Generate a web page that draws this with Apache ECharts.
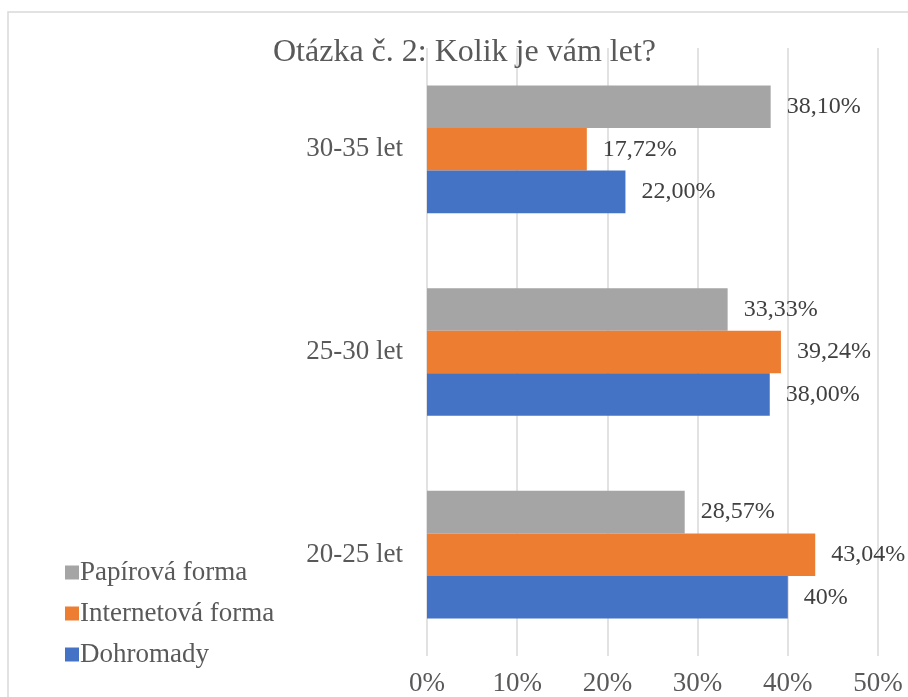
<!DOCTYPE html>
<html>
<head>
<meta charset="utf-8">
<script src="https://cdn.jsdelivr.net/npm/echarts@6/dist/echarts.min.js"></script>
<style>
  html, body { margin: 0; padding: 0; background: #fff; }
  #chart { width: 908px; height: 697px; }
</style>
</head>
<body>
<div id="chart"></div>
<script>
// kategorie zdola nahoru
var categories = ['20-25 let', '25-30 let', '30-35 let'];
var dohromady = [40, 38, 22];
var internetova = [43.04, 39.24, 17.72];
var papirova = [28.57, 33.33, 38.10];
var dohromadyLabels = ['40%', '38,00%', '22,00%'];
var internetovaLabels = ['43,04%', '39,24%', '17,72%'];
var papirovaLabels = ['28,57%', '33,33%', '38,10%'];
var tickLabels = ['0%', '10%', '20%', '30%', '40%', '50%'];

var font = '"Liberation Serif", "Times New Roman", serif';
var textColor = '#595959';

function barSeries(name, values, labels, color) {
  return {
    name: name,
    type: 'bar',
    data: values,
    barGap: 0,
    barCategoryGap: '37%',
    itemStyle: { color: color },
    label: {
      show: true,
      position: 'right',
      distance: 16,
      fontFamily: font,
      fontSize: 24,
      color: '#404040',
      formatter: function (p) { return labels[p.dataIndex]; }
    }
  };
}

var chart = echarts.init(document.getElementById('chart'));
chart.setOption({
  animation: false,
  title: {
    text: 'Otázka č. 2: Kolik je vám let?',
    left: 268,
    top: 32,
    textStyle: { fontFamily: font, fontSize: 32, fontWeight: 'normal', color: textColor }
  },
  graphic: [{
    type: 'rect',
    shape: { x: 8, y: 12, width: 920, height: 720 },
    style: { fill: 'none', stroke: '#d9d9d9', lineWidth: 1.5 },
    silent: true
  }],
  legend: {
    orient: 'vertical',
    left: 60,
    top: 554,
    itemGap: 14,
    itemWidth: 14,
    itemHeight: 14,
    icon: 'rect',
    data: ['Papírová forma', 'Internetová forma', 'Dohromady'],
    textStyle: { fontFamily: font, fontSize: 27, color: textColor, padding: [0, 0, 0, -4] }
  },
  grid: { left: 427, right: 30, top: 48, bottom: 40 },
  xAxis: {
    type: 'value',
    min: 0,
    max: 50,
    interval: 10,
    axisLine: { show: false },
    axisTick: { show: false },
    splitLine: { lineStyle: { color: '#d9d9d9', width: 1.5 } },
    axisLabel: {
      margin: 14,
      fontFamily: font,
      fontSize: 27,
      color: textColor,
      formatter: function (v) { return tickLabels[v / 10]; }
    }
  },
  yAxis: {
    type: 'category',
    data: categories,
    axisLine: { show: false },
    axisTick: { show: false },
    axisLabel: { margin: 24, fontFamily: font, fontSize: 27, color: textColor }
  },
  series: [
    barSeries('Papírová forma', papirova, papirovaLabels, '#A5A5A5'),
    barSeries('Internetová forma', internetova, internetovaLabels, '#ED7D31'),
    barSeries('Dohromady', dohromady, dohromadyLabels, '#4472C4')
  ]
});
</script>
</body>
</html>
